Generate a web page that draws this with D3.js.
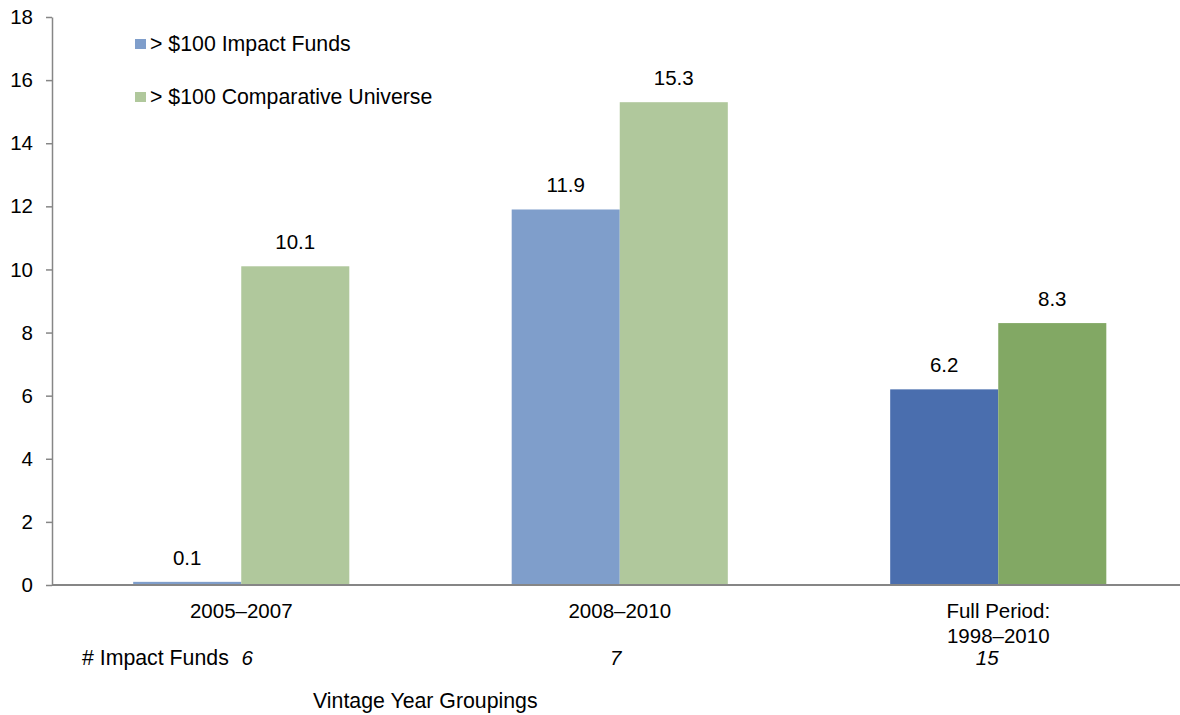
<!DOCTYPE html>
<html>
<head>
<meta charset="utf-8">
<script src="https://cdn.jsdelivr.net/npm/d3@7"></script>
<style>
  body { margin: 0; background: #fff; }
  text { font-family: "Liberation Sans", Arial, sans-serif; fill: #000; }
</style>
</head>
<body>
<div id="chart-area"></div>
<script>
// data
var categories = ["2005–2007", "2008–2010", "Full Period: 1998–2010"];
var categoryLines = [["2005–2007"], ["2008–2010"], ["Full Period:", "1998–2010"]];
var seriesNames = ["> $100 Impact Funds", "> $100 Comparative Universe"];
var impactValues = [0.1, 11.9, 6.2];
var universeValues = [10.1, 15.3, 8.3];
var fundCounts = [6, 7, 15];
var yTicks = [0, 2, 4, 6, 8, 10, 12, 14, 16, 18];

var lightColors = ["#7f9ecb", "#b0c89c"];
var darkColors = ["#4a6eae", "#82a864"];

var width = 1180, height = 715;
var margin = {top: 17, left: 52, bottom: 130};
var fs = "20.5px";
var fsWords = "21.3px";

var svg = d3.select("#chart-area")
  .append("svg")
    .attr("width", width)
    .attr("height", height);

var y = d3.scaleLinear()
  .domain([0, 18])
  .range([height - margin.bottom, margin.top]);

var x0 = d3.scaleBand()
  .domain(categories)
  .range([margin.left, margin.left + 1135.5])
  .paddingInner(0.429)
  .paddingOuter(0.2145);

var x1 = d3.scaleBand()
  .domain([0, 1])
  .range([0, x0.bandwidth()]);

var rows = categories.map(function(c, i) {
  return {cat: c, i: i, vals: [impactValues[i], universeValues[i]]};
});

// Y axis
var yAxis = svg.append("g")
  .attr("transform", "translate(" + margin.left + ",0)")
  .call(d3.axisLeft(y).tickValues(yTicks).tickSize(6).tickSizeOuter(0).tickPadding(13));
yAxis.select(".domain").attr("stroke", "#868686").attr("stroke-width", 1.5);
yAxis.selectAll(".tick line").attr("stroke", "#868686").attr("stroke-width", 1.5);
yAxis.selectAll(".tick text")
  .style("font-family", "Liberation Sans, Arial, sans-serif")
  .style("font-size", fs)
  .attr("fill", "#000");

// bars
var groups = svg.selectAll(".grp")
  .data(rows)
  .enter().append("g")
    .attr("class", "grp")
    .attr("transform", function(d) { return "translate(" + x0(d.cat) + ",0)"; });

groups.selectAll("rect")
  .data(function(d) { return d.vals.map(function(v, s) { return {v: v, s: s, i: d.i}; }); })
  .enter().append("rect")
    .attr("x", function(d) { return x1(d.s); })
    .attr("y", function(d) { return y(d.v); })
    .attr("width", x1.bandwidth())
    .attr("height", function(d) { return y(0) - y(d.v); })
    .attr("fill", function(d) {
      return d.i === categories.length - 1 ? darkColors[d.s] : lightColors[d.s];
    });

groups.selectAll(".label")
  .data(function(d) { return d.vals.map(function(v, s) { return {v: v, s: s}; }); })
  .enter().append("text")
    .attr("class", "label")
    .attr("x", function(d) { return x1(d.s) + x1.bandwidth() / 2; })
    .attr("y", function(d) { return y(d.v) - 17; })
    .attr("text-anchor", "middle")
    .style("font-size", fs)
    .text(function(d) { return d.v.toFixed(1); });

// x axis line
svg.append("line")
  .attr("x1", margin.left)
  .attr("x2", width)
  .attr("y1", y(0))
  .attr("y2", y(0))
  .attr("stroke", "#868686")
  .attr("stroke-width", 2);

// category labels
var cx = function(i) { return x0(categories[i]) + x0.bandwidth() / 2; };
categoryLines.forEach(function(lines, i) {
  lines.forEach(function(t, k) {
    svg.append("text")
      .attr("x", cx(i))
      .attr("y", y(0) + 33 + k * 25)
      .attr("text-anchor", "middle")
      .style("font-size", fs)
      .text(t);
  });
});

// fund counts row
svg.append("text")
  .attr("x", 82)
  .attr("y", 665)
  .style("font-size", fsWords)
  .text("# Impact Funds");

fundCounts.forEach(function(n, i) {
  svg.append("text")
    .attr("x", cx(i) + (i === 0 ? 6 : i === 1 ? -4 : -11))
    .attr("y", 665)
    .attr("text-anchor", "middle")
    .style("font-size", fs)
    .style("font-style", "italic")
    .text(n);
});

// axis title
svg.append("text")
  .attr("x", 313)
  .attr("y", 708)
  .style("font-size", fsWords)
  .text("Vintage Year Groupings");

// legend
var legend = svg.selectAll(".legend")
  .data(seriesNames)
  .enter().append("g")
    .attr("class", "legend")
    .attr("transform", function(d, i) { return "translate(135," + (39 + i * 53) + ")"; });

legend.append("rect")
  .attr("width", 11)
  .attr("height", 10)
  .attr("fill", function(d, i) { return lightColors[i]; });

legend.append("text")
  .attr("x", 15)
  .attr("y", 11.5)
  .style("font-size", fsWords)
  .text(function(d) { return d; });
</script>
</body>
</html>
